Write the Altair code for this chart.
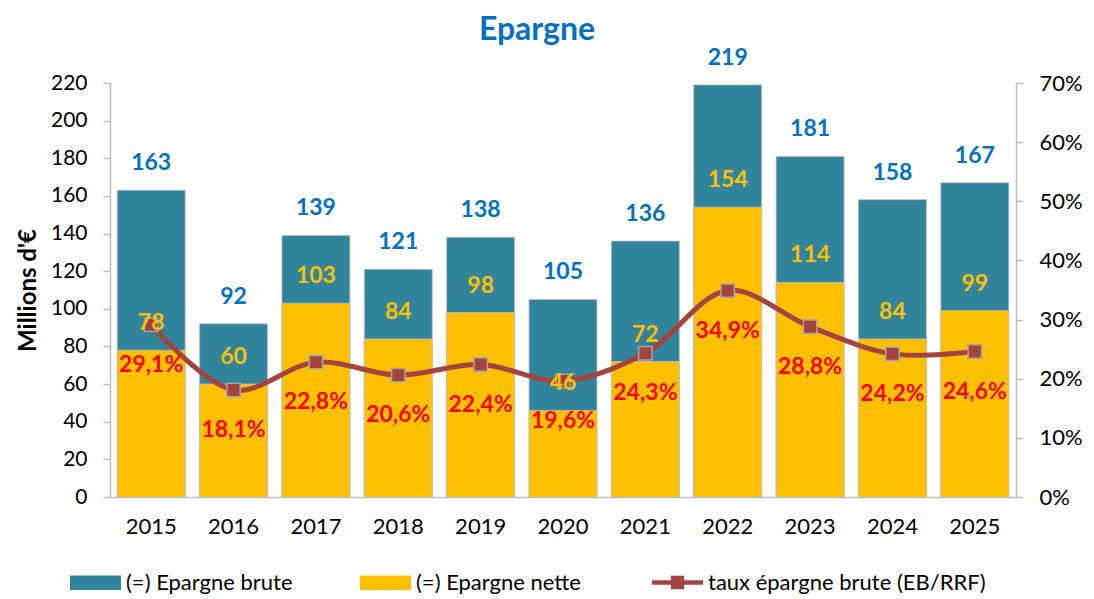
import altair as alt
import pandas as pd

annees = ["2015", "2016", "2017", "2018", "2019", "2020", "2021", "2022", "2023", "2024", "2025"]
epargne_brute = [163, 92, 139, 121, 138, 105, 136, 219, 181, 158, 167]
epargne_nette = [78, 60, 103, 84, 98, 46, 72, 154, 114, 84, 99]
taux_pct = [29.1, 18.1, 22.8, 20.6, 22.4, 19.6, 24.3, 34.9, 28.8, 24.2, 24.6]

SER_B = "(=) Epargne brute"
SER_N = "(=) Epargne nette"
SER_T = "taux épargne brute (EB/RRF)"

C_TEAL = "#31849B"
C_YEL = "#FFC000"
C_LINE = "#A5443F"
FONT = "Lato"

df = pd.DataFrame({
    "annee": annees,
    "brute": epargne_brute,
    "nette": epargne_nette,
    "taux": [t / 100 for t in taux_pct],
})
df["taux_lbl"] = [f"{t:.1f}%".replace(".", ",") for t in taux_pct]

base = alt.Chart(df)

x = alt.X("annee:N", title=None,
          scale=alt.Scale(paddingInner=0.175, paddingOuter=0.0875),
          axis=alt.Axis(labelAngle=0, ticks=False, domainColor="#BFBFBF", domainWidth=1.5,
                        labelFontSize=22, labelPadding=19, labelColor="black"))

left_axis = alt.Axis(values=list(range(0, 221, 20)), grid=False, domainColor="#BFBFBF",
                     domainWidth=1.5, tickColor="#BFBFBF", tickSize=7, tickWidth=1.5,
                     labelFontSize=21, labelPadding=16, labelColor="black",
                     titleFontSize=24, titleFontWeight="bold", titleColor="black", titlePadding=10)
yscale_l = alt.Scale(domain=[0, 220], nice=False)

right_axis = alt.Axis(orient="right", format=".0%", values=[0, 0.1, 0.2, 0.3, 0.4, 0.5, 0.6, 0.7],
                      grid=False, domainColor="#BFBFBF", domainWidth=1.5, tickColor="#BFBFBF",
                      tickSize=7, tickWidth=1.5, labelFontSize=22, labelPadding=16, labelColor="black")
yscale_r = alt.Scale(domain=[0, 0.7], nice=False)

legend_common = dict(title=None, orient="none", direction="horizontal", labelFontSize=22,
                     labelFont=FONT, labelColor="black", symbolSize=2600, columnPadding=67,
                     labelOffset=5, labelLimit=600, symbolStrokeWidth=0, symbolOpacity=1)

fill_bars = alt.Fill("serie:N",
                     scale=alt.Scale(domain=[SER_B, SER_N], range=[C_TEAL, C_YEL]),
                     legend=alt.Legend(legendX=-40, legendY=474, columns=2,
                                       symbolType="M-1,-0.28H1V0.28H-1Z", **legend_common))
fill_pts = alt.Fill("serie:N",
                    scale=alt.Scale(domain=[SER_T], range=[C_LINE]),
                    legend=alt.Legend(legendX=542, legendY=474, columns=1,
                                      symbolType="M-1,-0.09H1V0.09H-1Z M-0.26,-0.26H0.26V0.26H-0.26Z",
                                      **legend_common))

ytitle = "Millions d'€"
bar_b = base.transform_calculate(serie=f"'{SER_B}'").mark_bar(
    stroke="#BFBFBF", strokeWidth=0.8).encode(
    x=x, y=alt.Y("brute:Q", scale=yscale_l, title=ytitle, axis=left_axis), fill=fill_bars)
bar_n = base.transform_calculate(serie=f"'{SER_N}'").mark_bar(
    stroke="#BFBFBF", strokeWidth=0.8).encode(
    x=x, y=alt.Y("nette:Q", scale=yscale_l, title=ytitle, axis=left_axis), fill=fill_bars)
bars = alt.layer(bar_b, bar_n)

yr = alt.Y("taux:Q", scale=yscale_r, title=None, axis=right_axis)
line = base.mark_line(interpolate="catmull-rom", strokeWidth=5, color=C_LINE).encode(x=x, y=yr)
pts = base.transform_calculate(serie=f"'{SER_T}'").mark_point(
    shape="square", filled=True, size=180, stroke="#A6A6A6", strokeWidth=1.5, opacity=1).encode(
    x=x, y=yr, fill=fill_pts)
lines = alt.layer(line, pts)

txt_b = base.mark_text(dy=-27, fontSize=23, fontWeight="bold", color="#0070C0", font=FONT,
                       baseline="middle").encode(
    x=x, y=alt.Y("brute:Q", scale=yscale_l, axis=None), text="brute:Q")
txt_n = base.mark_text(dy=-27, fontSize=23, fontWeight="bold", color=C_YEL, font=FONT,
                       baseline="middle").encode(
    x=x, y=alt.Y("nette:Q", scale=yscale_l, axis=None), text="nette:Q")
txt_bars = alt.layer(txt_b, txt_n)

txt_t = base.mark_text(dy=40, fontSize=23, fontWeight="bold", color="#FF0000", font=FONT,
                       baseline="middle").encode(
    x=x, y=alt.Y("taux:Q", scale=yscale_r, axis=None), text="taux_lbl:N")

chart = alt.layer(bars, lines, txt_bars, txt_t).resolve_scale(
    y="independent", fill="independent").properties(
    width=906, height=414,
    title=alt.TitleParams("Epargne", fontSize=32, fontWeight="bold", color="#0070C0", font=FONT,
                          anchor="middle", dx=-26, offset=0),
    autosize=alt.AutoSizeParams(type="none"),
    padding={"left": 102, "top": 75, "right": 70, "bottom": 102},
).configure_view(stroke=None).configure_axis(labelFont=FONT, titleFont=FONT)

chart.save("out.html", embed_options={"renderer": "svg", "actions": False})
